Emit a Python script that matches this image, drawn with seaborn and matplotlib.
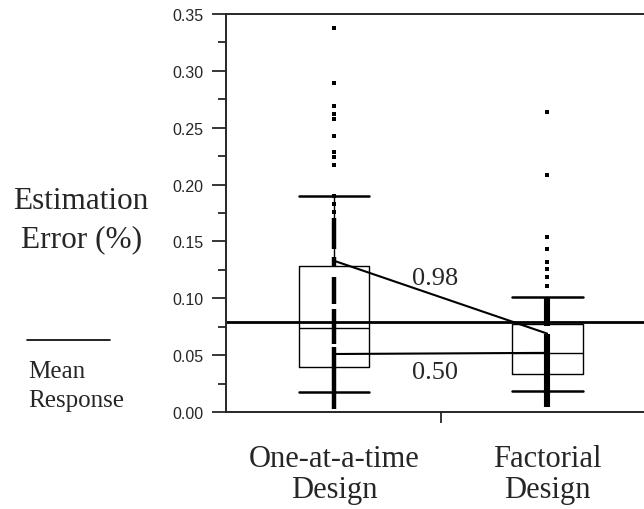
import numpy as np
import pandas as pd
import seaborn as sns
import matplotlib
matplotlib.use("Agg")
import matplotlib.pyplot as plt
from matplotlib.ticker import MultipleLocator, FixedLocator, FormatStrFormatter

designs = ["One-at-a-time\nDesign", "Factorial\nDesign"]

# five-number summaries: low cap, q1, median, q3, high cap
summary_oat = [0.0176, 0.040, 0.074, 0.128, 0.190]
summary_fac = [0.0185, 0.033, 0.052, 0.077, 0.101]

# single observations that stand out as dots
points_oat = [0.338, 0.289, 0.269, 0.262, 0.258, 0.243, 0.229, 0.224, 0.217,
              0.190, 0.183, 0.176]
points_fac = [0.264, 0.208, 0.154, 0.143, 0.132, 0.126, 0.119, 0.111]

# solid runs of overplotted observations along each column
runs_oat_lo = [0.003, 0.060, 0.095, 0.128, 0.143]
runs_oat_hi = [0.057, 0.091, 0.119, 0.136, 0.171]
runs_fac_lo = [0.004, 0.076]
runs_fac_hi = [0.069, 0.101]

mean_response = 0.079
line_a = [0.133, 0.069]   # labelled 0.98
line_b = [0.051, 0.052]   # labelled 0.50
line_labels = ["0.98", "0.50"]
label_y = [0.118, 0.035]

sns.set_style("ticks")
serif = "Liberation Serif"
sans = "Liberation Sans"

fig = plt.figure(figsize=(6.44, 5.10), dpi=100)
ax = fig.add_axes([226 / 644, 1 - 413 / 510, (644 - 226) / 644, (413 - 15) / 510])

box_df = pd.DataFrame({
    "design": [designs[0]] * len(summary_oat) + [designs[1]] * len(summary_fac),
    "err": summary_oat + summary_fac,
})
sns.boxplot(data=box_df, x="design", y="err", order=designs, width=0.333,
            whis=(0, 100), fill=False, color="black", linewidth=1.0,
            showfliers=False, capwidths=0.333,
            capprops=dict(linewidth=1.8), whiskerprops=dict(linewidth=1.0),
            ax=ax)

pts_df = pd.DataFrame({
    "design": [designs[0]] * len(points_oat) + [designs[1]] * len(points_fac),
    "err": points_oat + points_fac,
})
sns.stripplot(data=pts_df, x="design", y="err", order=designs, jitter=False,
              marker="s", size=3.2, color="black", linewidth=0, ax=ax)

ax.vlines([0] * len(runs_oat_lo), runs_oat_lo, runs_oat_hi, color="black", lw=3.2)
ax.vlines([1] * len(runs_fac_lo), runs_fac_lo, runs_fac_hi, color="black", lw=4.4)

ax.axhline(mean_response, color="black", lw=2.0)
ax.plot([0, 1], line_a, color="black", lw=1.5)
ax.plot([0, 1], line_b, color="black", lw=1.5)
for txt, yy in zip(line_labels, label_y):
    ax.text(0.474, yy, txt, ha="center", va="center", fontsize=19, family=serif)

ax.set_xlim(-0.507, 1.455)
ax.set_ylim(0, 0.35)
ax.yaxis.set_major_locator(MultipleLocator(0.05))
ax.yaxis.set_minor_locator(MultipleLocator(0.025))
ax.yaxis.set_major_formatter(FormatStrFormatter("%.2f"))
ax.tick_params(axis="y", which="major", length=10, width=1.3, pad=6,
               labelsize=11.5, direction="out")
ax.tick_params(axis="y", which="minor", length=6, width=1.3, direction="out")
for lab in ax.get_yticklabels():
    lab.set_family(sans)

ax.set_xticks([0, 1])
ax.set_xticklabels(designs, family=serif, fontsize=22, linespacing=1.1)
ax.xaxis.set_minor_locator(FixedLocator([0.5]))
ax.tick_params(axis="x", which="major", length=0, pad=23)
ax.tick_params(axis="x", which="minor", length=8, width=1.3, direction="out")
ax.set_xlabel("")
ax.set_ylabel("")

sns.despine(ax=ax, top=False, right=True)
for side in ["left", "bottom", "top"]:
    ax.spines[side].set_linewidth(1.4)

fig.text(81 / 644, 1 - 209 / 510, "Estimation", ha="center", va="baseline",
         fontsize=22.5, family=serif)
fig.text(82 / 644, 1 - 247 / 510, "Error (%)", ha="center", va="baseline",
         fontsize=22.5, family=serif)
fig.add_artist(plt.Line2D([27 / 644, 110 / 644], [1 - 341 / 510] * 2,
                          color="black", lw=1.2))
fig.text(28 / 644, 1 - 378 / 510, "Mean", ha="left", va="baseline",
         fontsize=18, family=serif)
fig.text(28 / 644, 1 - 407 / 510, "Response", ha="left", va="baseline",
         fontsize=18, family=serif)

fig.savefig("out.png", dpi=100)
